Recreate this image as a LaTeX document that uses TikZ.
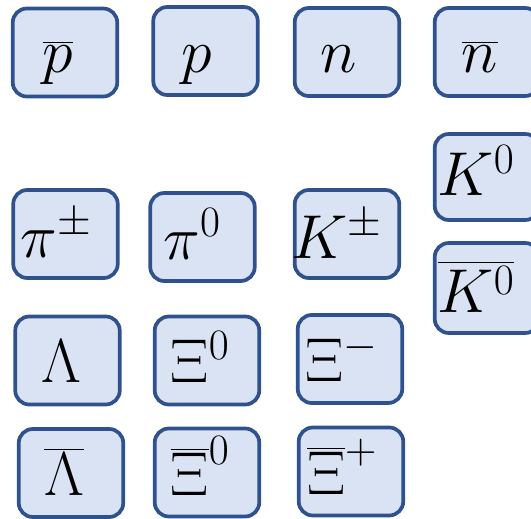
\documentclass[tikz,border=0pt]{standalone}
\usepackage{fix-cm}
\usepackage{amsmath}
\definecolor{boxfill}{HTML}{DAE3F3}
\definecolor{boxline}{HTML}{2F528F}
\begin{document}
\begin{tikzpicture}[x=1pt,y=-1pt,
  pbox/.style={draw=boxline,fill=boxfill,line width=3.7pt,rounded corners=14pt,
    minimum width=104.5pt,minimum height=88pt,inner sep=0pt},
  plabel/.style={anchor=base,inner sep=0pt,font=\fontsize{62}{70}\selectfont}]
\useasboundingbox (0,0) rectangle (531,519);
% boxes
\node[pbox] (b1) at (65,52.5) {};
\node[pbox] (b2) at (205.5,51) {};
\node[pbox] (b3) at (347,52) {};
\node[pbox] (b4) at (487,52) {};
\node[pbox,minimum height=86pt] (b5) at (487,177) {};
\node[pbox,minimum height=90pt] (b6) at (487,288) {};
\node[pbox] (b7) at (65.5,234) {};
\node[pbox] (b8) at (202.5,237) {};
\node[pbox] (b9) at (347,234) {};
\node[pbox] (b10) at (67.5,360.5) {};
\node[pbox] (b11) at (207,360.5) {};
\node[pbox] (b12) at (350,359) {};
\node[pbox] (b13) at (71,473) {};
\node[pbox] (b14) at (207,472.5) {};
\node[pbox] (b15) at (351,471.5) {};
% labels
\node[plabel] (t1) at (58,73) {$\overline{p}$};
\node[plabel] (t2) at (197,73) {$p$};
\node[plabel] (t3) at (339,73) {$n$};
\node[plabel] (t4) at (480,73) {$\overline{n}$};
\node[plabel] (t5) at (476,196) {$K^0$};
\node[plabel] (t6) at (476,312) {$\overline{K^0}$};
\node[plabel] (t7) at (56,257) {$\pi^\pm$};
\node[plabel] (t8) at (192,259) {$\pi^0$};
\node[plabel] (t9) at (337,258) {$K^\pm$};
\node[plabel] (t10) at (61,382) {$\Lambda$};
\node[plabel] (t11) at (200,382) {$\Xi^0$};
\node[plabel] (t12) at (342,381) {$\Xi^-$};
\node[plabel] (t13) at (64,495) {$\overline{\Lambda}$};
\node[plabel] (t14) at (200,495) {$\overline{\Xi}^0$};
\node[plabel] (t15) at (342,494) {$\overline{\Xi}^+$};
\end{tikzpicture}
\end{document}
